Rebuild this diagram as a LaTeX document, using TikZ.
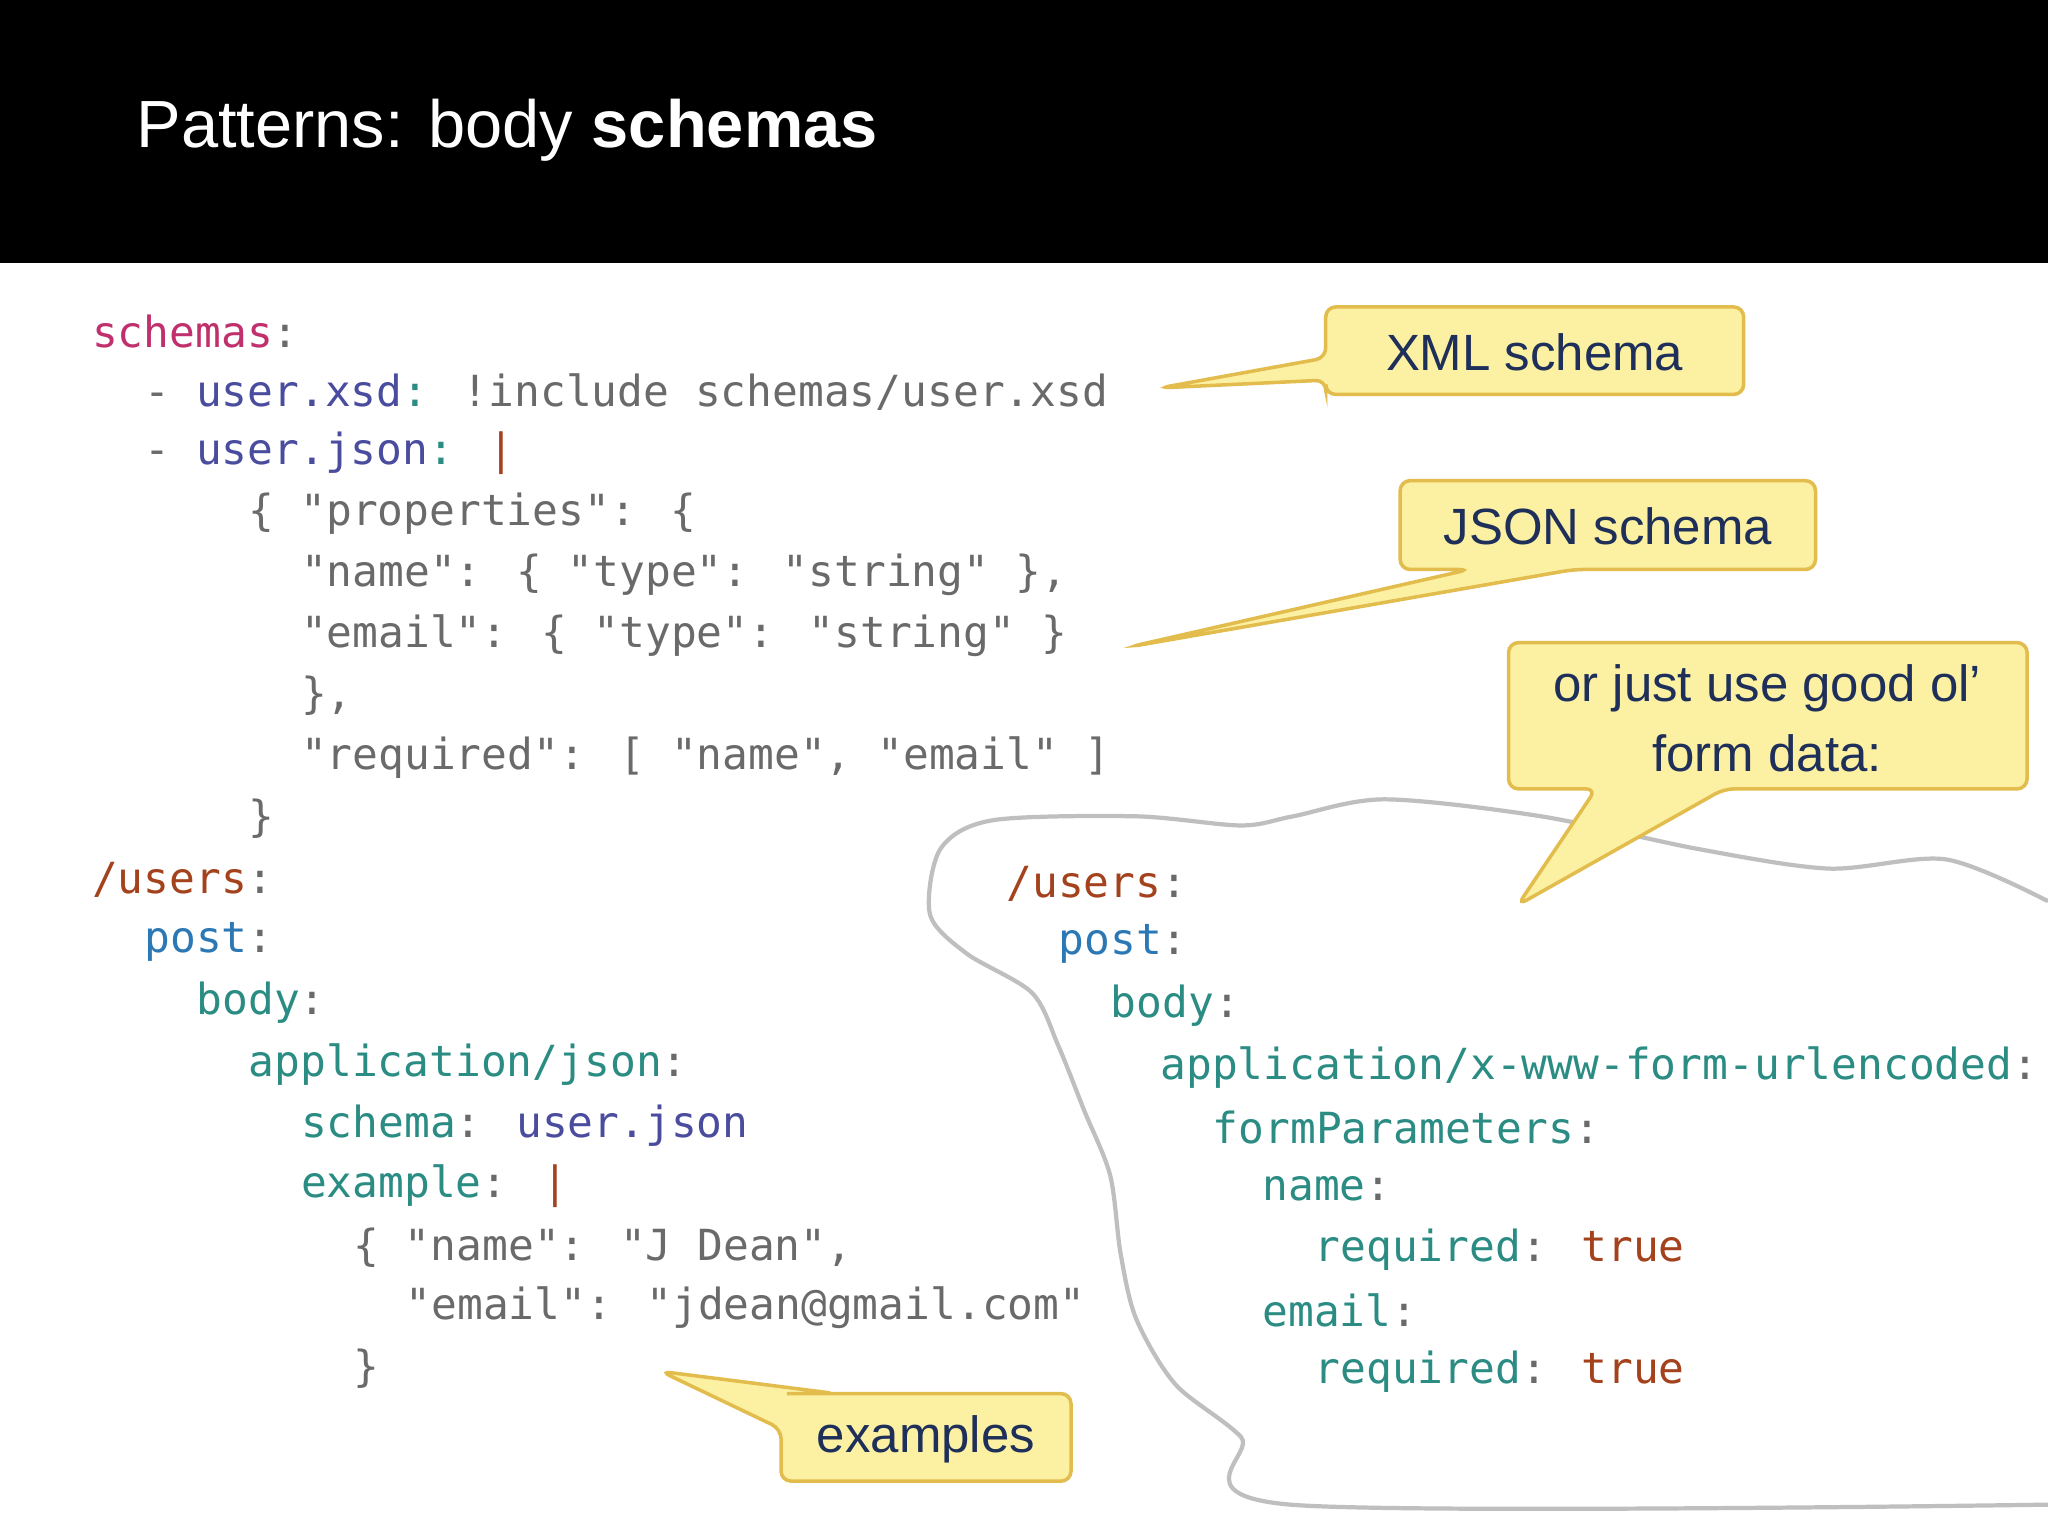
\documentclass[tikz,border=0pt]{standalone}
\usepackage{fontspec}
\setmainfont{Liberation Sans}
\newfontfamily\codefont{DejaVu Sans Mono}
\definecolor{cmag}{HTML}{C0306C}
\definecolor{ckey}{HTML}{4A4C9E}
\definecolor{cteal}{HTML}{2B8C84}
\definecolor{cblue}{HTML}{2C78B4}
\definecolor{cbrown}{HTML}{A3421C}
\definecolor{cgrey}{HTML}{6A6A6A}
\definecolor{cyel}{HTML}{FCF1A2}
\definecolor{cyeld}{HTML}{E2BC4C}
\definecolor{cnavy}{HTML}{1E2F5A}
\newcommand\cM[1]{\textcolor{cmag}{#1}}
\newcommand\cK[1]{\textcolor{ckey}{#1}}
\newcommand\cT[1]{\textcolor{cteal}{#1}}
\newcommand\cB[1]{\textcolor{cblue}{#1}}
\newcommand\cR[1]{\textcolor{cbrown}{#1}}
\newcommand\cG[1]{\textcolor{cgrey}{#1}}
\begin{document}
\begin{tikzpicture}[x=0.013061cm,y=-0.013061cm,
  code/.style={anchor=west,inner sep=0,font=\codefont\fontsize{12.2}{14}\selectfont},
  callout/.style={fill=cyel,draw=cyeld,line width=1pt,rounded corners=0.1cm},
  ctext/.style={text=cnavy,font=\fontsize{14.5}{20}\selectfont,align=center}]
\useasboundingbox (0,0) rectangle (1568,1176);
\fill[white] (0,0) rectangle (1568,1176);
\fill[black] (0,0) rectangle (1568,201);
\node[anchor=west,text=white,font=\fontsize{19}{23}\selectfont] (title) at (95,100) {Patterns: body \textbf{schemas}};
% paper region
\draw[draw=black!25,line width=1.2pt,fill=white] plot[smooth] coordinates {(1568,690) (1490,658) (1400,665) (1300,650) (1180,625) (1060,612) (990,625) (950,632) (870,625) (760,628) (720,650) (712,700) (740,730) (790,760) (810,800) (830,850) (850,900) (858,960) (870,1010) (900,1060) (950,1100) (988,1152) (1568,1152)};
% left code
\node[code] (a1) at (70,254) {\cM{schemas}\cG{:}};
\node[code] (a2) at (110,300) {\cG{-} \cK{user.xsd}\cT{:} \cG{!include schemas/user.xsd}};
\node[code] (a3) at (110,347) {\cG{-} \cK{user.json}\cT{:} \cR{|}};
\node[code] (a4) at (190,393) {\cG{\{ "properties": \{}};
\node[code] (a5) at (230,440) {\cG{"name": \{ "type": "string" \},}};
\node[code] (a6) at (230,487) {\cG{"email": \{ "type": "string" \}}};
\node[code] (a7) at (230,533) {\cG{\},}};
\node[code] (a8) at (230,580) {\cG{"required": [ "name", "email" ]}};
\node[code] (a9) at (190,627) {\cG{\}}};
\node[code] (b1) at (70,674) {\cR{/users}\cG{:}};
\node[code] (b2) at (110,721) {\cB{post}\cG{:}};
\node[code] (b3) at (150,768) {\cT{body}\cG{:}};
\node[code] (b4) at (190,815) {\cT{application/json}\cG{:}};
\node[code] (b5) at (230,862) {\cT{schema}\cG{:} \cK{user.json}};
\node[code] (b6) at (230,908) {\cT{example}\cG{:} \cR{|}};
\node[code] (b7) at (270,955) {\cG{\{ "name": "J Dean",}};
\node[code] (b8) at (310,1001) {\cG{"email": "jdean@gmail.com"}};
\node[code] (b9) at (270,1048) {\cG{\}}};
% right code
\node[code] (c1) at (770,677) {\cR{/users}\cG{:}};
\node[code] (c2) at (810,723) {\cB{post}\cG{:}};
\node[code] (c3) at (850,770) {\cT{body}\cG{:}};
\node[code] (c4) at (888,817) {\cT{application/x-www-form-urlencoded}\cG{:}};
\node[code] (c5) at (928,863) {\cT{formParameters}\cG{:}};
\node[code] (c6) at (966,910) {\cT{name}\cG{:}};
\node[code] (c7) at (1006,957) {\cT{required}\cG{:} \cR{true}};
\node[code] (c8) at (966,1003) {\cT{email}\cG{:}};
\node[code] (c9) at (1006,1050) {\cT{required}\cG{:} \cR{true}};
% callouts
\coordinate (t1) at (888,297);
\draw[callout] (1015,235) -- (1335,235) -- (1335,302) -- (1015,302) -- (1015,291) -- (t1) -- (1015,274) -- cycle;
\node[ctext] (x1) at (1175,270) {XML schema};
\coordinate (t2) at (866,495);
\draw[callout] (1072,368) -- (1390,368) -- (1390,436) -- (1205,436) -- (t2) -- (1125,436) -- (1072,436) -- cycle;
\node[ctext] (x2) at (1231,403) {JSON schema};
\coordinate (t3) at (1162,693);
\draw[callout] (1155,492) -- (1552,492) -- (1552,604) -- (1320,604) -- (t3) -- (1222,604) -- (1155,604) -- cycle;
\node[ctext] (x3) at (1353,550) {or just use good ol'\\form data:};
\coordinate (t4) at (506,1050);
\draw[callout] (598,1067) -- (820,1067) -- (820,1134) -- (598,1134) -- (598,1094) -- (t4) -- (640,1067) -- cycle;
\node[ctext] (x4) at (709,1102) {examples};
\end{tikzpicture}
\end{document}
